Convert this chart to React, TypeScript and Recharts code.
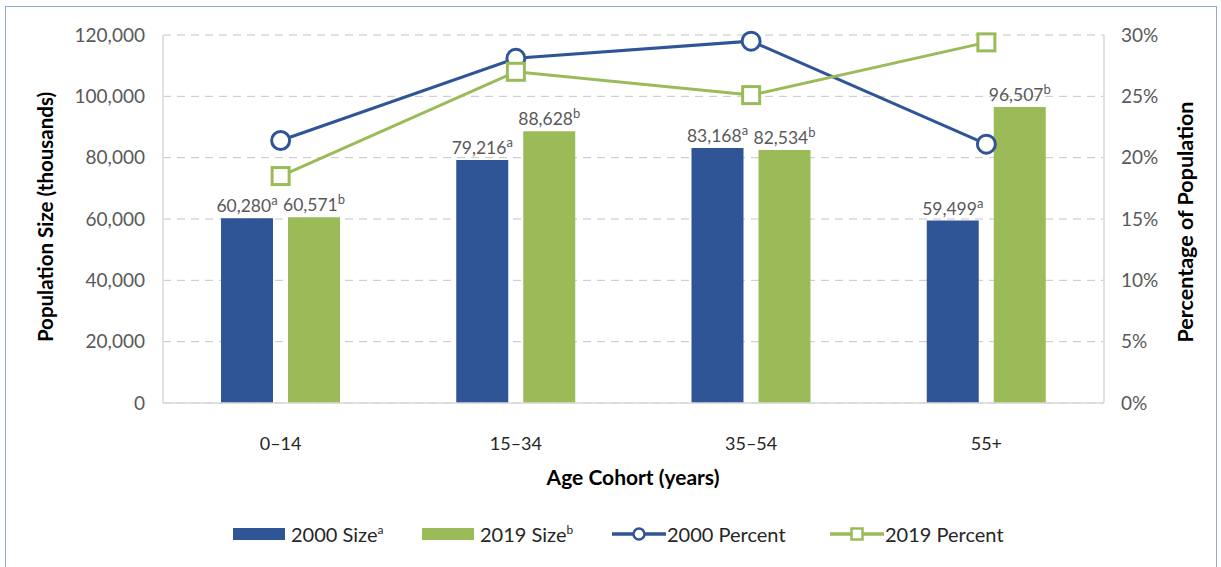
import React from 'react';
import {
  Bar, CartesianGrid, ComposedChart, LabelList, Line, XAxis, YAxis,
} from 'recharts';

// ── Data ──────────────────────────────────────────────────────────────────────

const COHORTS = ['0–14', '15–34', '35–54', '55+'];
const SIZE_2000 = [60280, 79216, 83168, 59499];
const SIZE_2019 = [60571, 88628, 82534, 96507];
const PCT_2000 = [0.214, 0.281, 0.295, 0.211];
const PCT_2019 = [0.185, 0.270, 0.251, 0.294];
const LEFT_TICKS = [0, 20000, 40000, 60000, 80000, 100000, 120000];
const RIGHT_TICKS = [0, 0.05, 0.1, 0.15, 0.2, 0.25, 0.3];

const data = COHORTS.map((c, i) => ({
  cohort: c,
  s2000: SIZE_2000[i],
  s2019: SIZE_2019[i],
  p2000: PCT_2000[i],
  p2019: PCT_2019[i],
}));

// ── Styling ───────────────────────────────────────────────────────────────────

const FONT = 'Lato, "Open Sans", sans-serif';
const BLUE = '#2f5597';
const GREEN = '#9bbb59';
const TICK = '#595959';
const AXIS = '#d9d9d9';

const W = 1221;
const H = 567;

function barLabel(sup: string) {
  return (props: any) => {
    const { x, y, width, value } = props;
    return (
      <text
        x={Number(x) + Number(width) / 2}
        y={Number(y) - 6}
        textAnchor="middle"
        fill={TICK}
        fontSize={17.5}
        fontFamily={FONT}
      >
        <tspan>{Number(value).toLocaleString('en-US')}</tspan>
        <tspan dy={-7} fontSize={13}>{sup}</tspan>
      </text>
    );
  };
}

function SquareDot(props: any) {
  const { cx, cy } = props;
  if (cx == null || cy == null) return null;
  return (
    <rect x={cx - 8.5} y={cy - 8.5} width={17} height={17}
      fill="#fff" stroke={GREEN} strokeWidth={3} />
  );
}

// legend items: swatch 52px wide, then label
function LegendItem({ left, kind, color, label, sup }: {
  left: number; kind: 'bar' | 'circle' | 'square'; color: string; label: string; sup?: string;
}) {
  return (
    <div style={{ position: 'absolute', left, top: 0, display: 'flex', alignItems: 'center', whiteSpace: 'nowrap' }}>
      <svg width={54} height={18} style={{ display: 'block' }}>
        {kind === 'bar' ? (
          <rect x={0} y={3} width={52} height={12} fill={color} />
        ) : (
          <>
            <line x1={0} x2={54} y1={9} y2={9} stroke={color} strokeWidth={3.5} />
            {kind === 'circle'
              ? <circle cx={27} cy={9} r={5.5} fill="#fff" stroke={color} strokeWidth={2.5} />
              : <rect x={21.5} y={3.5} width={11} height={11} fill="#fff" stroke={color} strokeWidth={2.5} />}
          </>
        )}
      </svg>
      <span style={{ marginLeft: kind === 'bar' ? 4 : 1 }}>
        {label}{sup && <sup style={{ fontSize: 12 }}>{sup}</sup>}
      </span>
    </div>
  );
}

export default function App() {
  return (
    <div style={{
      position: 'absolute', left: 0, top: 0, width: W, height: H,
      background: '#fff', fontFamily: FONT, overflow: 'hidden',
    }}>
      <div style={{
        position: 'absolute', left: 5, top: 6, width: 1212, height: 580,
        border: '1.5px solid #8ea9db', boxSizing: 'border-box',
      }} />

      <ComposedChart
        width={W} height={H} data={data}
        margin={{ top: 35, right: 0, bottom: 134, left: 0 }}
        barGap={15} barSize={52}
        style={{ position: 'absolute', left: 0, top: 0 }}
      >
        <CartesianGrid yAxisId="left" vertical={false} stroke="#c6c6c6" strokeDasharray="8 6" />
        <XAxis
          dataKey="cohort"
          height={30}
          axisLine={{ stroke: AXIS, strokeWidth: 1.5 }}
          tickLine={false}
          tickMargin={28}
          tick={{ fontSize: 18, fill: '#262626', fontFamily: FONT }}
        />
        <YAxis
          yAxisId="left"
          width={163}
          domain={[0, 120000]}
          ticks={LEFT_TICKS}
          tickFormatter={(v: number) => v.toLocaleString('en-US')}
          axisLine={{ stroke: AXIS, strokeWidth: 1.5 }}
          tickLine={false}
          tickSize={0}
          tickMargin={18}
          tick={{ fontSize: 19, fill: TICK, fontFamily: FONT }}
        />
        <YAxis
          yAxisId="right"
          orientation="right"
          width={117}
          domain={[0, 0.3]}
          ticks={RIGHT_TICKS}
          tickFormatter={(v: number) => `${Math.round(v * 100)}%`}
          axisLine={{ stroke: AXIS, strokeWidth: 1.5 }}
          tickLine={false}
          tickSize={0}
          tickMargin={17}
          tick={{ fontSize: 19, fill: TICK, fontFamily: FONT }}
        />

        <Bar yAxisId="left" dataKey="s2000" fill={BLUE} isAnimationActive={false}>
          <LabelList dataKey="s2000" content={barLabel('a')} />
        </Bar>
        <Bar yAxisId="left" dataKey="s2019" fill={GREEN} isAnimationActive={false}>
          <LabelList dataKey="s2019" content={barLabel('b')} />
        </Bar>

        <Line
          yAxisId="right" dataKey="p2000" type="linear"
          stroke={BLUE} strokeWidth={3}
          dot={{ r: 9, fill: '#fff', stroke: BLUE, strokeWidth: 3 }}
          activeDot={false}
          isAnimationActive={false}
        />
        <Line
          yAxisId="right" dataKey="p2019" type="linear"
          stroke={GREEN} strokeWidth={3}
          dot={<SquareDot />}
          activeDot={false}
          isAnimationActive={false}
        />
      </ComposedChart>

      {/* Axis titles */}
      <div style={{
        position: 'absolute', left: 45, top: 217, transform: 'translate(-50%, -50%) rotate(-90deg)',
        whiteSpace: 'nowrap', fontWeight: 700, fontSize: 20.5, color: '#000',
      }}>Population Size (thousands)</div>
      <div style={{
        position: 'absolute', left: 1185, top: 222, transform: 'translate(-50%, -50%) rotate(-90deg)',
        whiteSpace: 'nowrap', fontWeight: 700, fontSize: 21.5, color: '#000',
      }}>Percentage of Population</div>
      <div style={{
        position: 'absolute', left: 633, top: 476, transform: 'translate(-50%, -50%)',
        whiteSpace: 'nowrap', fontWeight: 700, fontSize: 21, color: '#000',
      }}>Age Cohort (years)</div>

      {/* Legend */}
      <div style={{
        position: 'absolute', left: 233, top: 522, height: 22,
        fontSize: 20, color: '#262626',
      }}>
        <LegendItem left={0} kind="bar" color={BLUE} label="2000 Size" sup="a" />
        <LegendItem left={189} kind="bar" color={GREEN} label="2019 Size" sup="b" />
        <LegendItem left={379} kind="circle" color={BLUE} label="2000 Percent" />
        <LegendItem left={597} kind="square" color={GREEN} label="2019 Percent" />
      </div>
    </div>
  );
}
